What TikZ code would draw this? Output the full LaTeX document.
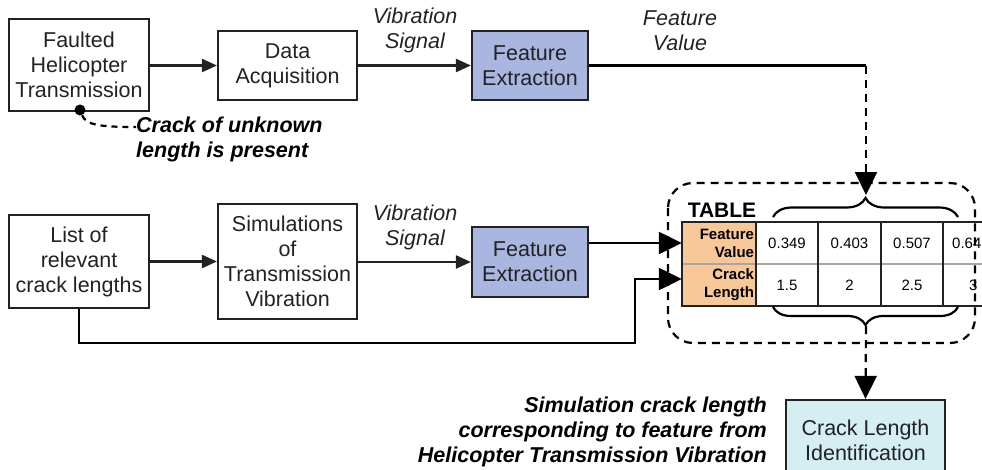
\documentclass[tikz,border=0pt]{standalone}
\usepackage{fontspec}
\setmainfont{Liberation Sans}
\usetikzlibrary{arrows.meta,decorations.pathreplacing}
\definecolor{featblue}{HTML}{A9B6E0}
\definecolor{headpeach}{HTML}{F8C898}
\definecolor{idcyan}{HTML}{D4EEF2}
\definecolor{inkgray}{HTML}{222222}

\begin{document}
\begin{tikzpicture}[x=1pt, y=-1pt,
    block/.style={draw=inkgray, line width=2.2pt, inner sep=0pt, align=center,
                  text=inkgray, font=\fontsize{21.5}{25}\selectfont},
    siglabel/.style={align=center, inner sep=0pt, text=inkgray,
                     font=\fontsize{21.5}{25}\selectfont\itshape},
    note/.style={inner sep=0pt, font=\fontsize{21.5}{25}\selectfont\bfseries\itshape},
    hdrcell/.style={fill=headpeach, text width=70pt, align=right, inner sep=2pt,
                    minimum height=42pt, font=\fontsize{15}{18}\selectfont\bfseries},
    valtext/.style={inner sep=0pt, font=\fontsize{15}{18}\selectfont},
    arrow/.style={-{Triangle[length=15pt,width=13pt]}, line width=2.4pt, draw=inkgray},
    bigarrow/.style={-{Triangle[length=23pt,width=22pt]}, line width=2.4pt, draw=black},
    dashline/.style={dash pattern=on 8pt off 6pt, line width=2.2pt},
    curly/.style={decorate, decoration={brace, amplitude=#1}, line width=2.2pt},
    gridline/.style={line width=2.2pt, draw=inkgray}
]
\useasboundingbox (0,0) rectangle (982,469);

\node[block, minimum width=140pt, minimum height=92pt] (fault) at (79,65) {Faulted\\Helicopter\\Transmission};
\node[block, minimum width=139pt, minimum height=69pt] (daq) at (287.5,65.5) {Data\\Acquisition};
\node[block, fill=featblue, minimum width=116pt, minimum height=69pt] (fe1) at (530,65.5) {Feature\\Extraction};
\node[block, minimum width=140pt, minimum height=93pt] (list) at (79,261.5) {List of\\relevant\\crack lengths};
\node[block, minimum width=139pt, minimum height=115pt] (sim) at (287.5,261.5) {Simulations\\of\\Transmission\\Vibration};
\node[block, fill=featblue, minimum width=116pt, minimum height=70pt] (fe2) at (530,262) {Feature\\Extraction};
\node[block, fill=idcyan, minimum width=159pt, minimum height=80pt] (cli) at (865.5,440) {Crack Length\\Identification};

\node[siglabel] (vib1) at (415,30.5) {Vibration\\Signal};
\node[siglabel] (vib2) at (415,227) {Vibration\\Signal};
\node[siglabel] (fval) at (680,30.5) {Feature\\Value};

\node[circle, fill=black, inner sep=0pt, minimum size=11pt] (crk) at (80,110) {};
\node[note, align=left, anchor=west] (cracknote) at (136,139.5) {Crack of unknown\\length is present};
\node[note, align=right, anchor=east] (simnote) at (767,432) {Simulation crack length\\corresponding to feature from\\Helicopter Transmission Vibration};

\draw[dashline, rounded corners=25pt] (668,183) rectangle (975,343);
\node[inner sep=0pt, font=\fontsize{21}{25}\selectfont\bfseries] (tbltitle) at (722,210) {TABLE};

\begin{scope}
\clip (0,0) rectangle (982,469);
\node[hdrcell] (hdrval) at (719,243) {Feature\\Value};
\node[hdrcell] (hdrlen) at (719,285) {Crack\\Length};
\foreach \x/\fv/\cl in {787/0.349/1.5, 849.5/0.403/2, 912/0.507/2.5} {
  \node[valtext] at (\x,243) {\fv};
  \node[valtext] at (\x,285) {\cl};
}
\node[valtext, anchor=west] at (952,243) {0.64};
\node[valtext, anchor=west] at (969,285) {3};
\draw[line width=1.5pt, draw=gray!70] (682,264) -- (1000,264);
\draw[gridline] (1000,222) -- (682,222) -- (682,306) -- (1000,306);
\foreach \x in {756,818,881,943}
  \draw[gridline] (\x,222) -- (\x,306);
\end{scope}

\coordinate (fvturn) at (866,65.5);
\coordinate (bt) at (866,195);
\coordinate (bb) at (866,326);
\coordinate (bend) at (635,343);

\draw[curly=19pt] (773,217) -- (958,217);
\draw[curly=18pt] (958,307) -- (773,307);

\draw[arrow] (fault.east |- daq) -- (daq);
\draw[arrow] (daq) -- (fe1);
\draw[arrow] (list) -- (sim);
\draw[arrow] (sim.east |- fe2) -- (fe2);
\draw[line width=2.2pt] (fe1.east) -- (fvturn);
\draw[bigarrow, dashline] (fvturn) -- (bt);
\draw[bigarrow] (fe2.east |- hdrval.west) -- (hdrval.west);
\draw[bigarrow] (list.south) |- (bend) |- ([yshift=6pt]hdrlen.west);
\draw[bigarrow, dashline] (bb) -- (cli.north);
\draw[dash pattern=on 6pt off 5pt, line width=2.2pt] (crk) .. controls (86,125) and (100,127) .. ([yshift=12.5pt]cracknote.west);
\end{tikzpicture}
\end{document}
